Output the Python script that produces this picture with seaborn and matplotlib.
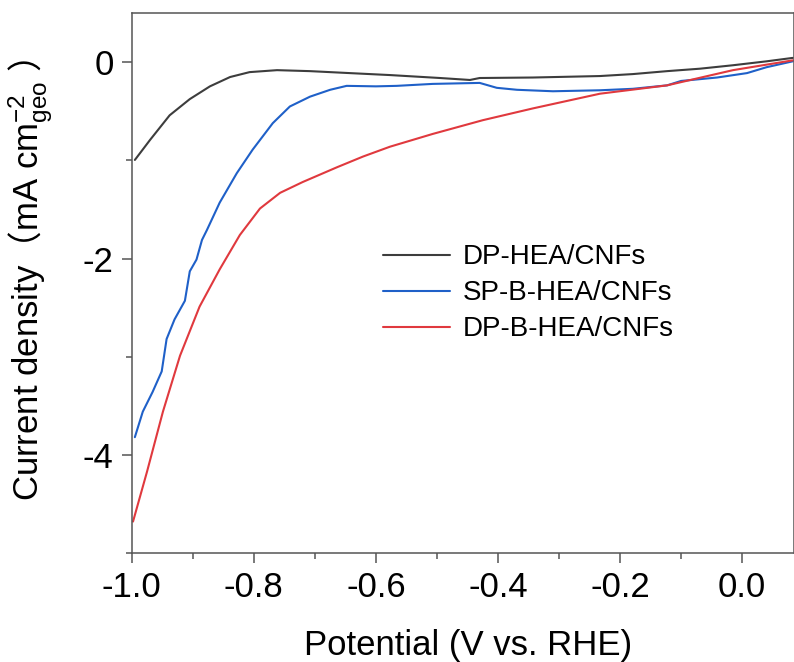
import matplotlib
matplotlib.use("Agg")
import matplotlib.pyplot as plt
import seaborn as sns
import pandas as pd
from matplotlib.ticker import MultipleLocator

# ---------------- data ----------------
x_dp = [-0.995, -0.97, -0.938, -0.905, -0.872, -0.839, -0.807, -0.762, -0.708,
        -0.643, -0.577, -0.495, -0.446, -0.43, -0.343, -0.233, -0.179, -0.123,
        -0.069, -0.015, 0.04, 0.083]
y_dp = [-0.995, -0.79, -0.54, -0.375, -0.245, -0.15, -0.10, -0.08, -0.09,
        -0.11, -0.13, -0.16, -0.18, -0.16, -0.155, -0.14, -0.12, -0.09,
        -0.065, -0.03, 0.01, 0.045]

x_sp = [-0.995, -0.982, -0.966, -0.951, -0.943, -0.93, -0.913, -0.905, -0.894,
        -0.885, -0.877, -0.856, -0.828, -0.802, -0.769, -0.741, -0.708, -0.675,
        -0.648, -0.60, -0.566, -0.507, -0.43, -0.402, -0.369, -0.31, -0.233,
        -0.179, -0.123, -0.10, -0.041, 0.008, 0.04, 0.083]
y_sp = [-3.82, -3.56, -3.36, -3.15, -2.82, -2.62, -2.43, -2.13, -2.01,
        -1.81, -1.71, -1.43, -1.13, -0.89, -0.62, -0.45, -0.35, -0.28,
        -0.24, -0.245, -0.24, -0.22, -0.21, -0.26, -0.28, -0.295, -0.285,
        -0.27, -0.235, -0.19, -0.155, -0.11, -0.05, 0.01]

x_dpb = [-0.998, -0.975, -0.949, -0.921, -0.889, -0.856, -0.823, -0.79, -0.757,
         -0.72, -0.664, -0.621, -0.577, -0.507, -0.425, -0.343, -0.233, -0.123,
         -0.015, 0.083]
y_dpb = [-4.68, -4.17, -3.56, -2.99, -2.49, -2.11, -1.76, -1.49, -1.33,
         -1.22, -1.07, -0.96, -0.86, -0.73, -0.59, -0.47, -0.32, -0.235,
         -0.08, 0.02]

labels = ["DP-HEA/CNFs", "SP-B-HEA/CNFs", "DP-B-HEA/CNFs"]
colors = ["#3d3d3d", "#1f60c8", "#e0393e"]
x_ticks = [-1.0, -0.8, -0.6, -0.4, -0.2, 0.0]
y_ticks = [0, -2, -4]

# ---------------- build table ----------------
frames = []
for lab, xs, ys in zip(labels, [x_dp, x_sp, x_dpb], [y_dp, y_sp, y_dpb]):
    frames.append(pd.DataFrame({"Potential": xs, "Current": ys, "Sample": lab}))
df = pd.concat(frames, ignore_index=True)

# ---------------- style ----------------
sns.set_style("ticks")
plt.rcParams["font.family"] = ["Liberation Sans", "Noto Sans CJK SC", "DejaVu Sans"]
plt.rcParams["axes.unicode_minus"] = False
plt.rcParams["mathtext.fontset"] = "custom"
plt.rcParams["mathtext.rm"] = "Noto Sans CJK SC"
plt.rcParams["mathtext.default"] = "regular"
plt.rcParams["text.color"] = "black"
plt.rcParams["axes.labelcolor"] = "black"
plt.rcParams["xtick.color"] = "black"
plt.rcParams["ytick.color"] = "black"

fig = plt.figure(figsize=(7.94, 6.62), dpi=100)
ax = fig.add_axes([0.166, 0.1647, 0.834, 0.8153])

sns.lineplot(data=df, x="Potential", y="Current", hue="Sample",
             palette=dict(zip(labels, colors)), hue_order=labels,
             sort=False, estimator=None, linewidth=1.5, ax=ax)

ax.set_xlim(-1.0, 0.085)
ax.set_ylim(-5.0, 0.5)
ax.set_xticks(x_ticks)
ax.set_xticklabels([f"{v:.1f}" for v in x_ticks])
ax.set_yticks(y_ticks)
ax.set_yticklabels([str(v) for v in y_ticks])
ax.xaxis.set_minor_locator(MultipleLocator(0.1))
ax.yaxis.set_minor_locator(MultipleLocator(1))

for s in ax.spines.values():
    s.set_color("#555555")
    s.set_linewidth(1.1)
ax.tick_params(which="major", direction="out", length=7, width=1.1,
               color="#555555", labelcolor="black", labelsize=25, pad=6)
ax.tick_params(which="minor", direction="out", length=4, width=1.1,
               color="#555555")
ax.tick_params(top=False, right=False, which="both")

ax.set_xlabel("Potential (V vs. RHE)", fontsize=25)
ax.xaxis.set_label_coords(0.508, -0.140)
ax.set_ylabel(r"Current density$\mathrm{（}$mA cm$^{-2}_{geo}$ $\mathrm{）}$",
              fontsize=25)
ax.yaxis.set_label_coords(-0.114, 0.506)

leg = ax.legend(loc="upper left", bbox_to_anchor=(0.38, 0.572), frameon=False,
                fontsize=20, handlelength=2.4, handletextpad=0.45,
                labelspacing=0.36, borderpad=0, borderaxespad=0)
for h in leg.get_lines():
    h.set_linewidth(1.5)

fig.savefig("out.png", dpi=100)
